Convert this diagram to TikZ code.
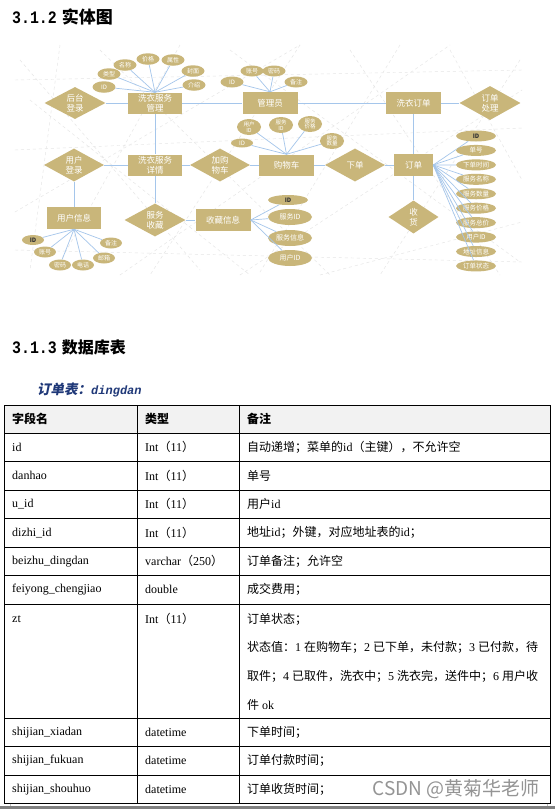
\documentclass[tikz,border=0pt]{standalone}
\usepackage{fontspec}
\setmainfont{Liberation Serif}
\newfontfamily\cjk{Noto Sans CJK SC}
\newfontfamily\cjkit{Noto Sans CJK SC}[FakeSlant=0.2]
\newfontfamily\hmono{Liberation Mono}
\newfontfamily\hdig{Liberation Mono}[FakeStretch=0.85]
\usetikzlibrary{shapes.geometric}
\definecolor{erfill}{RGB}{201,182,122}
\definecolor{erline}{RGB}{165,198,235}
\definecolor{titleblue}{RGB}{31,56,120}
\definecolor{headgray}{RGB}{242,242,242}
\newcommand\zh[1]{{\cjk #1}}

\begin{document}
\begin{tikzpicture}[x=1pt, y=-1pt,
  ent/.style={rectangle, fill=erfill, text=white, inner sep=0pt, align=center,
    font=\cjk\fontsize{8.5}{10}\selectfont},
  rel/.style={diamond, aspect=1.8, fill=erfill, text=white, inner sep=0pt, align=center,
    font=\cjk\fontsize{8.5}{10}\selectfont},
  att/.style={ellipse, fill=erfill, text=white, inner sep=0pt, align=center,
    font=\cjk\fontsize{6}{6.2}\selectfont},
  attd/.style={att, text=black!80},
  ln/.style={draw=erline, line width=0.7pt},
  bg/.style={draw=black!10, dashed, line width=0.45pt},
  cell/.style={anchor=west, inner sep=0pt, font=\fontsize{12}{14}\selectfont},
  hcell/.style={cell, font=\cjk\bfseries\fontsize{12}{14}\selectfont},
  grid/.style={draw=black, line width=0.8pt}]
\useasboundingbox (0,0) rectangle (555,809);
\fill[white] (0,0) rectangle (555,809);

% headings
\node[anchor=west, inner sep=0pt] (h1) at (12,17)
  {{\hdig\bfseries\fontsize{17.5}{17.5}\selectfont 3.1.2}\hspace{5pt}{\cjk\bfseries\fontsize{17}{17}\selectfont 实体图}};
\node[anchor=west, inner sep=0pt] (h2) at (12,347)
  {{\hdig\bfseries\fontsize{17.5}{17.5}\selectfont 3.1.3}\hspace{5pt}{\cjk\bfseries\fontsize{16}{16}\selectfont 数据库表}};
\node[anchor=west, inner sep=0pt, text=titleblue] (sub) at (37,390)
  {{\cjkit\bfseries\fontsize{13.5}{14}\selectfont 订单表：}{\hmono\bfseries\itshape\fontsize{12}{12}\selectfont dingdan}};

% background texture
\draw[bg] (20,60) -- (200,270);
\draw[bg] (60,45) -- (30,270);
\draw[bg] (100,50) -- (330,275);
\draw[bg] (180,45) -- (60,262);
\draw[bg] (230,50) -- (520,262);
\draw[bg] (300,45) -- (150,275);
\draw[bg] (350,50) -- (500,275);
\draw[bg] (400,45) -- (260,272);
\draw[bg] (450,50) -- (522,180);
\draw[bg] (520,60) -- (380,275);
\draw[bg] (15,150) -- (522,128);
\draw[bg] (15,212) -- (300,45);
\draw[bg] (240,275) -- (522,90);
\draw[bg] (120,275) -- (450,45);
\draw[bg] (30,100) -- (250,275);
\draw[bg] (320,275) -- (522,222);
\draw[bg] (15,80) -- (522,70);
\draw[bg] (15,250) -- (522,262);

% entities and relations
\node[rel, minimum width=61, minimum height=32] (htdl) at (75,103) {后台\\登录};
\node[ent, minimum width=54, minimum height=21] (fwgl) at (155,103) {洗衣服务\\管理};
\node[ent, minimum width=55, minimum height=22] (gly) at (270,103) {管理员};
\node[ent, minimum width=55, minimum height=22] (xydd) at (413.5,103) {洗衣订单};
\node[rel, minimum width=61, minimum height=34] (ddcl) at (490,103) {订单\\处理};
\node[rel, minimum width=60, minimum height=33] (yhdl) at (74,165) {用户\\登录};
\node[ent, minimum width=54, minimum height=21] (fwxq) at (155,165) {洗衣服务\\详情};
\node[rel, minimum width=60, minimum height=33] (jgwc) at (220,165) {加购\\物车};
\node[ent, minimum width=55, minimum height=21] (gwc) at (286.5,165) {购物车};
\node[rel, minimum width=60, minimum height=33] (xd) at (355,165) {下单};
\node[ent, minimum width=39, minimum height=22] (dd) at (413.5,165) {订单};
\node[rel, minimum width=50, minimum height=33] (sh) at (413.5,217) {收\\货};
\node[rel, minimum width=61, minimum height=33] (fwsc) at (155,220) {服务\\收藏};
\node[ent, minimum width=55, minimum height=22] (scxx) at (223,220) {收藏信息};
\node[ent, minimum width=54, minimum height=22] (yhxx) at (74,218) {用户信息};

\draw[ln] (htdl) -- (fwgl);
\draw[ln] (fwgl) -- (gly);
\draw[ln] (gly) -- (xydd);
\draw[ln] (xydd) -- (ddcl);
\draw[ln] (fwgl) -- (fwxq);
\draw[ln] (xydd) -- (dd);
\draw[ln] (yhdl) -- (fwxq);
\draw[ln] (fwxq) -- (jgwc);
\draw[ln] (jgwc) -- (gwc);
\draw[ln] (gwc) -- (xd);
\draw[ln] (xd) -- (dd);
\draw[ln] (dd) -- (sh);
\draw[ln] (yhdl) -- (yhxx);
\draw[ln] (fwxq) -- (fwsc);
\draw[ln] (fwsc) -- (scxx);

% attributes of fwgl
\foreach \t/\px/\py [count=\i] in {ID/104/87, 类型/109/74, 名称/125/65, 价格/148/59, 属性/173/60, 封面/193/71, 介绍/194/85}{
  \node[att, minimum width=23, minimum height=11.5] (fwgla\i) at (\px,\py) {\t};
  \draw[ln] (fwgl.north) -- (fwgla\i);
}
% attributes of gly
\foreach \t/\px/\py [count=\i] in {ID/232/82, 账号/252/71, 密码/274/71, 备注/296/82}{
  \node[att, minimum width=23, minimum height=11] (glya\i) at (\px,\py) {\t};
  \draw[ln] (gly.north) -- (glya\i);
}
% attributes of gwc
\foreach \t/\px/\py [count=\i] in {{用户\\ID}/249/127, {服务\\ID}/281/125, {服务\\价格}/310/124, {服务\\数量}/332/141}{
  \node[att, minimum width=24, minimum height=16, font=\cjk\fontsize{5.5}{5.8}\selectfont] (gwca\i) at (\px,\py) {\t};
  \draw[ln] (gwc.north) -- (gwca\i);
}
\node[att, minimum width=22, minimum height=9] (gwca5) at (242,143) {ID};
\draw[ln] (gwc.north) -- (gwca5);
% attributes of dd
\foreach \t [count=\i] in {ID, 单号, 下单时间, 服务名称, 服务数量, 服务价格, 服务总价, 用户ID, 地址信息, 订单状态}{
  \node[att, minimum width=40, minimum height=11, font=\cjk\fontsize{6.5}{7}\selectfont] (dda\i) at (476,{136+(\i-1)*14.44}) {\t};
  \draw[ln] (dd.east) -- (dda\i);
}
\node[attd, minimum width=38, minimum height=10, font=\cjk\bfseries\fontsize{6}{7}\selectfont] at (dda1) {ID};
% attributes of scxx
\node[attd, minimum width=40, minimum height=10, font=\cjk\bfseries\fontsize{6}{7}\selectfont] (scxxa1) at (288,200) {ID};
\foreach \t/\py [count=\i from 2] in {服务ID/217, 服务信息/238, 用户ID/258}{
  \node[att, minimum width=44, minimum height=16, font=\cjk\fontsize{7}{7}\selectfont] (scxxa\i) at (290,\py) {\t};
}
\foreach \i in {1,...,4}{
  \draw[ln] (scxx.east) -- (scxxa\i);
}
% attributes of yhxx
\node[attd, minimum width=22, minimum height=10, font=\cjk\bfseries\fontsize{6}{7}\selectfont] (yhxxa1) at (33,240) {ID};
\foreach \t/\px/\py [count=\i from 2] in {账号/45/252, 密码/60/265, 电话/83/265, 邮箱/104/258, 备注/111/243}{
  \node[att, minimum width=22, minimum height=11] (yhxxa\i) at (\px,\py) {\t};
}
\foreach \i in {1,...,6}{
  \draw[ln] (yhxx.south) -- (yhxxa\i);
}

% table
\fill[headgray] (4,405) rectangle (550,433);
\foreach \y in {405,433,461.5,490,518.5,547,575.5,604,718,746.5,775,803.5}
  \draw[grid] (4,\y) -- (550,\y);
\foreach \x in {4,137.5,239.5,550}
  \draw[grid] (\x,405) -- (\x,803.5);
\node[hcell] (th1) at (12,419) {字段名};
\node[hcell] (th2) at (145,419) {类型};
\node[hcell] (th3) at (247,419) {备注};
\foreach \f/\t/\n [count=\i] in {
  {id}/{Int\zh{（}11\zh{）}}/{\zh{自动递增；菜单的}id\zh{（主键），不允许空}},
  {danhao}/{Int\zh{（}11\zh{）}}/{\zh{单号}},
  {u\_id}/{Int\zh{（}11\zh{）}}/{\zh{用户}id},
  {dizhi\_id}/{Int\zh{（}11\zh{）}}/{\zh{地址}id\zh{；外键，对应地址表的}id\zh{；}},
  {beizhu\_dingdan}/{varchar\zh{（}250\zh{）}}/{\zh{订单备注；允许空}},
  {feiyong\_chengjiao}/{double}/{\zh{成交费用；}}}{
  \node[cell] (tf\i) at (12,{433+(\i-0.5)*28.5}) {\f};
  \node[cell] (tt\i) at (145,{433+(\i-0.5)*28.5}) {\t};
  \node[cell] (tn\i) at (247,{433+(\i-0.5)*28.5}) {\n};
}
\node[cell] (tf7) at (12,619) {zt};
\node[cell] (tt7) at (145,619) {Int\zh{（}11\zh{）}};
\node[cell] (tn7a) at (247,619) {\zh{订单状态；}};
\node[cell] (tn7b) at (247,647.5) {\zh{状态值：}1 \zh{在购物车；}2 \zh{已下单，未付款；}3 \zh{已付款，待}};
\node[cell] (tn7c) at (247,676) {\zh{取件；}4 \zh{已取件，洗衣中；}5 \zh{洗衣完，送件中；}6 \zh{用户收}};
\node[cell] (tn7d) at (247,704.5) {\zh{件} ok};
\foreach \f/\n [count=\i from 8] in {
  {shijian\_xiadan}/{下单时间；},
  {shijian\_fukuan}/{订单付款时间；},
  {shijian\_shouhuo}/{订单收货时间；}}{
  \node[cell] (tf\i) at (12,{718+(\i-7.5)*28.5}) {\f};
  \node[cell] (tt\i) at (145,{718+(\i-7.5)*28.5}) {datetime};
  \node[cell] (tn\i) at (247,{718+(\i-7.5)*28.5}) {\zh{\n}};
}

% watermark and page edge
\node[text=black!42, inner sep=0pt, font=\cjk\fontsize{19}{19}\selectfont] (wm) at (456,789) {CSDN @黄菊华老师};
\draw[black!25, line width=0.6pt] (10.5,803.5) -- (10.5,806);
\draw[black!25, line width=0.6pt] (547,803.5) -- (547,806);
\fill[black!50] (0,806) rectangle (555,809);
\end{tikzpicture}
\end{document}
